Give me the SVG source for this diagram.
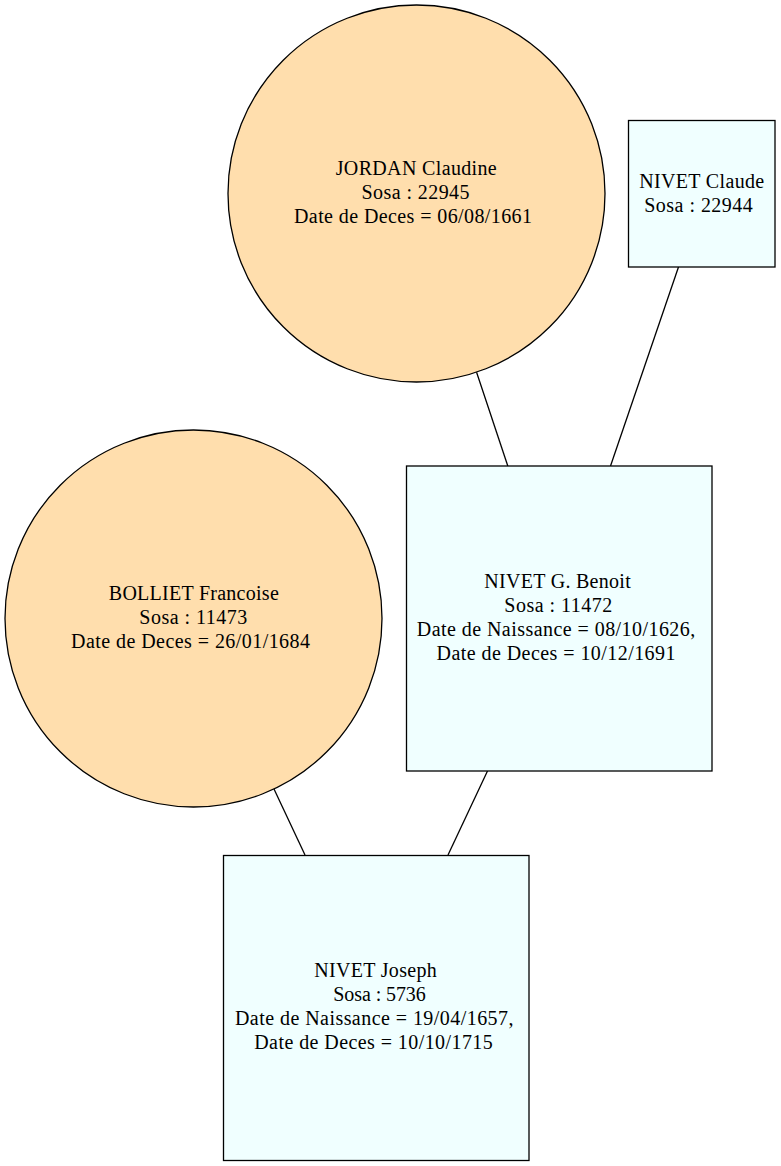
<svg xmlns="http://www.w3.org/2000/svg" width="781" height="1166" viewBox="0 0 781 1166">
<style>
.f{fill:#ffdead;stroke:#000;stroke-width:1.3}
.m{fill:#f0ffff;stroke:#000;stroke-width:1.3}
.e{stroke:#000;stroke-width:1.3;fill:none}
text{font-family:"Liberation Serif","Times New Roman",serif;font-size:20px;text-anchor:middle;fill:#000}
</style>
<rect width="781" height="1166" fill="#fff"/>
<g id="edges">
<line class="e" x1="476.5" y1="372" x2="507.8" y2="466"/>
<line class="e" x1="678.5" y1="267" x2="610.5" y2="466"/>
<line class="e" x1="274" y1="789" x2="305" y2="855"/>
<line class="e" x1="487.5" y1="771" x2="448" y2="855"/>
</g>
<g id="jordan">
<circle class="f" cx="416.5" cy="193.5" r="188.5"/>
<text x="416.2" y="174.5" textLength="161" lengthAdjust="spacing">JORDAN Claudine</text>
<text x="415.5" y="198.5" textLength="108" lengthAdjust="spacing">Sosa : 22945</text>
<text x="413" y="222.5" textLength="238" lengthAdjust="spacing">Date de Deces = 06/08/1661</text>
</g>
<g id="claude">
<rect class="m" x="628.5" y="120.5" width="146.5" height="146.5"/>
<text x="701.7" y="187.5" textLength="125" lengthAdjust="spacing">NIVET Claude</text>
<text x="698.5" y="211.5" textLength="108.5" lengthAdjust="spacing">Sosa : 22944</text>
</g>
<g id="benoit">
<rect class="m" x="406.5" y="466" width="305.5" height="305"/>
<text x="557.5" y="587.5" textLength="146.5" lengthAdjust="spacing">NIVET G. Benoit</text>
<text x="558.3" y="611.5" textLength="108" lengthAdjust="spacing">Sosa : 11472</text>
<text x="556" y="635.5" textLength="278.5" lengthAdjust="spacing">Date de Naissance = 08/10/1626,</text>
<text x="556" y="659.5" textLength="239" lengthAdjust="spacing">Date de Deces = 10/12/1691</text>
</g>
<g id="bolliet">
<circle class="f" cx="193.5" cy="618.5" r="188.5"/>
<text x="193.8" y="600" textLength="170" lengthAdjust="spacing">BOLLIET Francoise</text>
<text x="193.3" y="624" textLength="108" lengthAdjust="spacing">Sosa : 11473</text>
<text x="190.5" y="648" textLength="239" lengthAdjust="spacing">Date de Deces = 26/01/1684</text>
</g>
<g id="joseph">
<rect class="m" x="223.5" y="855.5" width="305.5" height="305"/>
<text x="375.5" y="976.5" textLength="122.5" lengthAdjust="spacing">NIVET Joseph</text>
<text x="379.5" y="1000.5" textLength="92.5" lengthAdjust="spacing">Sosa : 5736</text>
<text x="374.2" y="1024.5" textLength="278.5" lengthAdjust="spacing">Date de Naissance = 19/04/1657,</text>
<text x="373.5" y="1048.5" textLength="238.5" lengthAdjust="spacing">Date de Deces = 10/10/1715</text>
</g>
</svg>
